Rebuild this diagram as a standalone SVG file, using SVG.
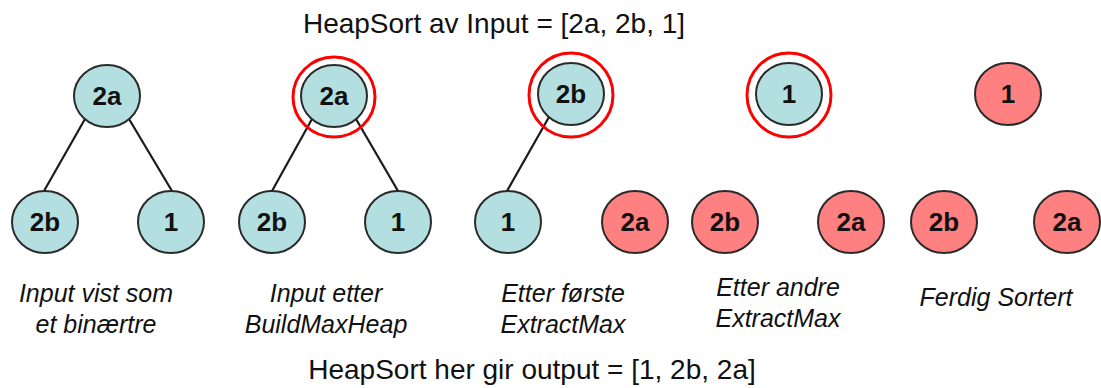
<svg xmlns="http://www.w3.org/2000/svg" width="1101" height="388" viewBox="0 0 1101 388">
  <style>
    .node { stroke: #2a2a2a; stroke-width: 2; }
    .heap { fill: #b4dfe0; }
    .done { fill: #ff8080; }
    .ring { fill: none; stroke: #ff0000; stroke-width: 3; }
    .lbl { font-family: "Liberation Sans", Arial, sans-serif; font-size: 26px; font-weight: bold; fill: #111; text-anchor: middle; dominant-baseline: central; }
    .edge { stroke: #1a1a1a; stroke-width: 2.2; fill: none; }
    .title { font-family: "Liberation Sans", Arial, sans-serif; font-size: 28px; fill: #111; text-anchor: middle; }
    .cap { font-family: "Liberation Sans", Arial, sans-serif; font-size: 25px; font-style: italic; fill: #111; text-anchor: middle; }
  </style>

  <text class="title" x="494" y="33">HeapSort av Input = [2a, 2b, 1]</text>

  <!-- tree edges -->
  <g id="connectors">
    <line class="edge" x1="85" y1="119" x2="44" y2="191"/>
    <line class="edge" x1="129" y1="119" x2="172" y2="191"/>
    <line class="edge" x1="312" y1="119" x2="272" y2="191"/>
    <line class="edge" x1="356" y1="119" x2="398" y2="191"/>
    <line class="edge" x1="549" y1="117" x2="507" y2="191"/>
  </g>

  <!-- stage 1: input as binary tree -->
  <g id="s1-root"><ellipse class="node heap" cx="107" cy="96" rx="33" ry="31"/><text class="lbl" x="107" y="96">2a</text></g>
  <g id="s1-left"><ellipse class="node heap" cx="45" cy="222" rx="33" ry="31"/><text class="lbl" x="45" y="222">2b</text></g>
  <g id="s1-right"><ellipse class="node heap" cx="171" cy="222" rx="33" ry="31"/><text class="lbl" x="171" y="222">1</text></g>

  <!-- stage 2: after BuildMaxHeap -->
  <g id="s2-root"><ellipse class="ring" cx="334" cy="97" rx="41" ry="40"/><ellipse class="node heap" cx="334" cy="96" rx="33" ry="31"/><text class="lbl" x="334" y="96">2a</text></g>
  <g id="s2-left"><ellipse class="node heap" cx="272" cy="222" rx="33" ry="31"/><text class="lbl" x="272" y="222">2b</text></g>
  <g id="s2-right"><ellipse class="node heap" cx="398" cy="222" rx="33" ry="31"/><text class="lbl" x="398" y="222">1</text></g>

  <!-- stage 3: after first ExtractMax -->
  <g id="s3-root"><ellipse class="ring" cx="571" cy="95" rx="42" ry="42"/><ellipse class="node heap" cx="571" cy="94" rx="33" ry="31"/><text class="lbl" x="571" y="94">2b</text></g>
  <g id="s3-left"><ellipse class="node heap" cx="508" cy="222" rx="33" ry="31"/><text class="lbl" x="508" y="222">1</text></g>
  <g id="s3-out"><ellipse class="node done" cx="635" cy="222" rx="33" ry="31"/><text class="lbl" x="635" y="222">2a</text></g>

  <!-- stage 4: after second ExtractMax -->
  <g id="s4-root"><ellipse class="ring" cx="789" cy="95" rx="42" ry="42"/><ellipse class="node heap" cx="789" cy="94" rx="33" ry="31"/><text class="lbl" x="789" y="94">1</text></g>
  <g id="s4-out1"><ellipse class="node done" cx="725" cy="222" rx="33" ry="31"/><text class="lbl" x="725" y="222">2b</text></g>
  <g id="s4-out2"><ellipse class="node done" cx="851" cy="222" rx="33" ry="31"/><text class="lbl" x="851" y="222">2a</text></g>

  <!-- stage 5: sorted -->
  <g id="s5-a"><ellipse class="node done" cx="1008" cy="94" rx="33" ry="31"/><text class="lbl" x="1008" y="94">1</text></g>
  <g id="s5-b"><ellipse class="node done" cx="944" cy="222" rx="33" ry="31"/><text class="lbl" x="944" y="222">2b</text></g>
  <g id="s5-c"><ellipse class="node done" cx="1067" cy="222" rx="33" ry="31"/><text class="lbl" x="1067" y="222">2a</text></g>

  <!-- captions -->
  <text class="cap" x="96" y="302">Input vist som</text>
  <text class="cap" x="96" y="333">et binærtre</text>
  <text class="cap" x="326" y="302">Input etter</text>
  <text class="cap" x="326" y="333">BuildMaxHeap</text>
  <text class="cap" x="563" y="302">Etter første</text>
  <text class="cap" x="563" y="333">ExtractMax</text>
  <text class="cap" x="778" y="296">Etter andre</text>
  <text class="cap" x="778" y="327">ExtractMax</text>
  <text class="cap" x="996" y="306">Ferdig Sortert</text>

  <text class="title" x="532" y="379">HeapSort her gir output = [1, 2b, 2a]</text>
</svg>
